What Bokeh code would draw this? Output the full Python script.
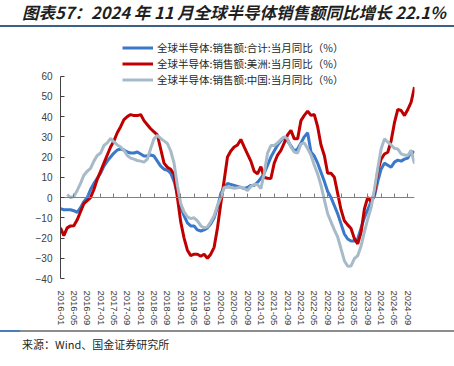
import math
from bokeh.plotting import figure
from bokeh.models import Range1d, FixedTicker, LinearAxis, Legend, LegendItem, Div
from bokeh.layouts import column
from bokeh.embed import file_html
from bokeh.resources import INLINE

NaN = float("nan")

title_text = "图表57：2024 年 11 月全球半导体销售额同比增长 22.1%"
source_text = "来源：Wind、国金证券研究所"

series_names = [
    "全球半导体:销售额:合计:当月同比（%）",
    "全球半导体:销售额:美洲:当月同比（%）",
    "全球半导体:销售额:中国:当月同比（%）",
]

tick_labels = [
    "2016-01", "2016-05", "2016-09", "2017-01", "2017-05", "2017-09",
    "2018-01", "2018-05", "2018-09", "2019-01", "2019-05", "2019-09",
    "2020-01", "2020-05", "2020-09", "2021-01", "2021-05", "2021-09",
    "2022-01", "2022-05", "2022-09", "2023-01", "2023-05", "2023-09",
    "2024-01", "2024-05", "2024-09",
]

y_ticks = [-40, -30, -20, -10, 0, 10, 20, 30, 40, 50, 60]

# monthly values, 2016-01 .. 2024-11
total = [
    -5.5, -6, -6, -6, -6.5, -7.3, -5, -2, 0, 4,
    7, 9.5, 12, 15.5, 18, 20, 22, 23.5, 24, 23.5,
    22.5, 22, 22, 22.5, 21.5, 20.5, 20.5, 21, 20.5, 18,
    15.5, 14, 13.5, 12, 8, 2, -5, -9, -12.5, -14,
    -14, -16, -16.5, -16, -15, -13, -10, -5, 2, 5,
    7, 6.5, 6, 5.5, 5, 4.5, 5, 6, 6, 7.5,
    9.5, 12, 16, 20, 23, 26, 28, 30, 28, 25.5,
    23, 24, 27, 30, 32, 22.5, 20.5, 17, 12.5, 8,
    3, 0, -4, -8, -13, -18, -20.5, -21.5, -21.5, -20.5,
    -15, -10, -6, -2, 0.5, 8, 14, 17, 16, 15,
    17.5, 18.5, 18, 19, 19.5, 23, 22.1,
]

americas = [
    -15, -18.8, -15, -14, -13.9, -11, -7, -3, -1.5, 0,
    4, 9, 13, 17, 21, 25, 28, 32, 35, 38.5,
    40, 41, 40.5, 40.5, 41, 38, 36, 34, 32.5, 31,
    24, 17, 15, 14, 11.5, 0, -12, -20, -26, -28.7,
    -28, -28, -29, -28, -30, -28, -24.6, -15, -3, 8.4,
    20, 23, 25, 26, 28.7, 25, 21.5, 18, 13, 11.7,
    15.3, 9.9, 9.5, 9.4, 17, 21, 23.3, 27, 31, 33.2,
    29, 29, 38, 40.6, 42.7, 40.6, 41, 35, 26, 20.8,
    12, 12, 10, 2, -6, -11.5, -13.5, -15.3, -20.3, -22.9,
    -17.2, -5.6, 0, -2, 2, 13, 19, 21.5, 22.4, 28,
    37, 43.6, 43, 40.5, 43.5, 47.2, 54.6,
]

china = [
    NaN, NaN, 1.5, 0, 0.5, 3.5, 7, 11, 13, 14.4,
    18, 20.8, 22, 25.7, 27, 29.2, 27.5, 26, 25, 23.3,
    20.8, 19.5, 19, 18.3, 18, 17.5, 19, 24.2, 29, 30.7,
    29.2, 28, 26.7, 23, 17, 6, -3, -7, -9.5, -10.4,
    -10, -11.5, -13.9, -15, -14.5, -12, -9, -4, 0, 5.1,
    5.1, 5, 4.6, 4.8, 5.1, 4.5, 3.5, 5.5, 6.4, 6.4,
    4.4, 12, 22, 25.7, 25.7, 27, 28.7, 30, 29, 24.9,
    22.5, 22, 26.5, 27, 24.2, 21, 16, 11.7, 6, -1,
    -8, -12, -16, -19.5, -25.4, -31.2, -34, -33.8, -30.2, -28.7,
    -24, -17, -10.6, -5, 4, 14.4, 24, 29, 27.4, 26,
    24.3, 24, 21.6, 21, 20.8, 23.3, 16.8,
]

months = list(range(len(total)))
tick_positions = [4 * k for k in range(len(tick_labels))]
colors = ["#3A78C9", "#C00000", "#A7BAC8"]

# frame extends above 60 to host the legend; the y axis line stops at 60
p = figure(
    width=454, height=301, title=None,
    x_range=Range1d(0, len(total) - 1), y_range=Range1d(-40, 77.6),
    output_backend="svg", toolbar_location=None,
    min_border_left=60, min_border_right=40, min_border_top=12, min_border_bottom=51,
)
p.outline_line_color = None
p.grid.visible = False
p.background_fill_color = "white"
p.border_fill_color = "white"

# bottom labels axis
xa = p.xaxis[0]
xa.ticker = FixedTicker(ticks=tick_positions)
xa.major_label_overrides = {pos: lab for pos, lab in zip(tick_positions, tick_labels)}
xa.axis_line_color = None
xa.major_tick_line_color = None
xa.minor_tick_line_color = None
xa.major_label_orientation = -math.pi / 2
xa.major_label_standoff = 6
xa.major_label_text_font = "Liberation Sans"
xa.major_label_text_font_size = "9.5px"
xa.major_label_text_color = "#404040"

# zero-line axis with ticks
za = LinearAxis(fixed_location=0, ticker=FixedTicker(ticks=tick_positions))
za.axis_line_color = "#7F7F7F"
za.axis_line_width = 1
za.major_tick_line_color = "#7F7F7F"
za.major_tick_in = 4
za.major_tick_out = 0
za.minor_tick_line_color = None
za.major_label_overrides = {pos: "" for pos in tick_positions}
za.major_label_text_font_size = "0px"
za.major_label_standoff = 0
p.add_layout(za, "below")

ya = p.yaxis[0]
ya.ticker = FixedTicker(ticks=y_ticks)
ya.bounds = (y_ticks[0], y_ticks[-1])
ya.axis_line_color = "#404040"
ya.major_tick_line_color = "#404040"
ya.major_tick_in = 4
ya.major_tick_out = 0
ya.minor_tick_line_color = None
ya.major_label_standoff = 8
ya.major_label_text_font = "Liberation Sans"
ya.major_label_text_font_size = "10px"
ya.major_label_text_color = "#404040"

renderers = []
for data, c in zip([total, americas, china], colors):
    r = p.line(months, data, line_width=3, line_color=c)
    renderers.append(r)

legend = Legend(
    items=[LegendItem(label=n, renderers=[r]) for n, r in zip(series_names, renderers)],
    location=(62, 191), orientation="vertical",
    padding=0, margin=0, spacing=1,
    glyph_width=31, glyph_height=13, label_height=13, label_standoff=4,
    label_text_font="Noto Sans CJK SC", label_text_font_size="10.5px",
    label_text_color="#262626",
    background_fill_alpha=0, border_line_color=None,
)
p.add_layout(legend)

title_div = Div(
    text=(
        '<div style="box-sizing:border-box;width:454px;height:27px;padding-top:2px;'
        'border-bottom:2px solid #3E5F86;padding-left:22px;'
        "font-family:'Noto Sans CJK SC';font-size:16.5px;font-weight:bold;"
        'font-style:italic;color:#1F1F1F;line-height:20px;white-space:nowrap;overflow:visible;">'
        + title_text + "</div>"
    ),
    width=454, height=28, margin=0,
)

footer_div = Div(
    text=(
        '<div style="width:454px;height:2px;margin-top:1px;'
        'background:linear-gradient(to right,#4A7EBB 0px,#4A7EBB 20px,#8C8C8C 20px,#8C8C8C 100%);"></div>'
        "<div style=\"padding-left:22px;margin-top:4px;font-family:'Noto Sans CJK SC';"
        'font-size:11px;line-height:16px;color:#1F1F1F;white-space:nowrap;">'
        + source_text + "</div>"
    ),
    width=454, height=36, margin=0,
)

layout = column(title_div, p, footer_div, spacing=0)

open("out.html", "w").write(file_html(layout, INLINE))
